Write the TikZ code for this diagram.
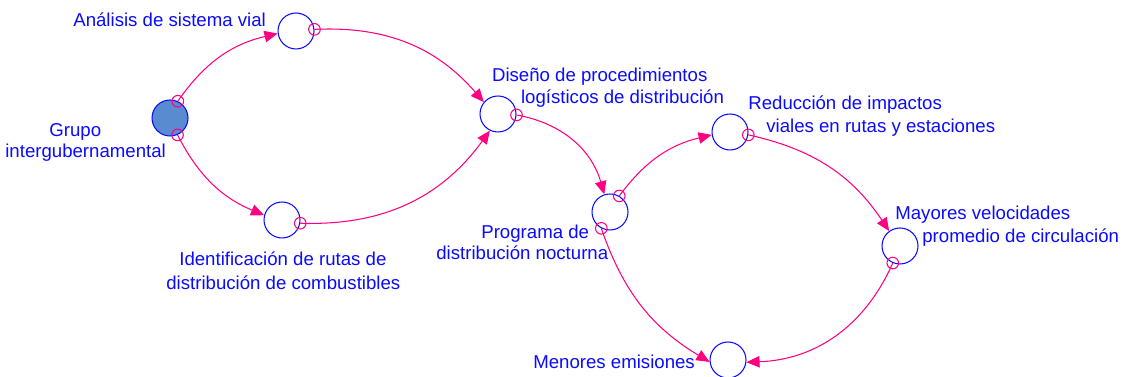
\documentclass[tikz,border=0pt]{standalone}
\usepackage{fontspec}
\setmainfont{Liberation Sans}
\usetikzlibrary{arrows.meta}
\definecolor{linkpink}{RGB}{255,0,128}
\definecolor{varblue}{RGB}{10,10,255}
\definecolor{srcfill}{RGB}{88,139,208}

\begin{document}
\begin{tikzpicture}[x=0.02cm, y=0.02cm, >={Triangle[length=7.5pt,width=6.5pt]},
		var/.style={circle, draw=varblue, line width=0.6pt, minimum size=0.72cm, inner sep=0pt},
		lbl/.style={anchor=base west, inner sep=0pt, text=varblue, font=\fontsize{10.6}{12.5}\selectfont},
		link/.style={->, draw=linkpink, fill=none, line width=0.6pt},
		tail/.style={draw=linkpink, line width=0.6pt}]
		
		\clip (0,0) rectangle (1124,377);
		
		% variables
		\node[var, fill=srcfill] (grupo) at (170,259) {};
		\node[var] (analisis) at (296,346) {};
		\node[var] (ident) at (282,157) {};
		\node[var] (diseno) at (498,263) {};
		\node[var] (programa) at (610,165) {};
		\node[var] (reduccion) at (730,245) {};
		\node[var] (mayores) at (900,131) {};
		\node[var] (menores) at (728,17) {};
		
		% labels
		\node[lbl] (analisisL) at (73,350.3) {Análisis de sistema vial};
		\node[lbl] (grupoL1) at (49,240.3) {Grupo};
		\node[lbl] (grupoL2) at (5,219) {intergubernamental};
		\node[lbl] (identL1) at (179,111) {Identificación de rutas de};
		\node[lbl] (identL2) at (166,87) {distribución de combustibles};
		\node[lbl] (disenoL1) at (491.7,295.3) {Diseño de procedimientos};
		\node[lbl] (disenoL2) at (520.7,273.7) {logísticos de distribución};
		\node[lbl] (programaL1) at (481,138) {Programa de};
		\node[lbl] (programaL2) at (436,117) {distribución nocturna};
		\node[lbl] (reduccionL1) at (748,267) {Reducción de impactos};
		\node[lbl] (reduccionL2) at (766,244) {viales en rutas y estaciones};
		\node[lbl] (mayoresL1) at (895,157) {Mayores velocidades};
		\node[lbl] (mayoresL2) at (922,134) {promedio de circulación};
		\node[lbl] (menoresL) at (533,8) {Menores emisiones};
		
		% causal links
		\draw[link] (grupo.65) to[bend left=21] (analisis.188);
		\draw[link] (grupo.294) to[bend right=20] (ident.165);
		\draw[link] (analisis.5) to[bend left=26] (diseno.140);
		\draw[link] (ident.350) to[bend right=28] (diseno.244);
		\draw[link] (diseno.357) to[bend left=32] (programa.108);
		\draw[link] (programa.60) to[bend left=20] (reduccion.189);
		\draw[link] (programa.242) to[bend right=20] (menores.186);
		\draw[link] (reduccion.351) to[bend left=22] (mayores.126);
		\draw[link] (mayores.247) to[bend left=32] (menores.353);
		
		% link tails
		\foreach \p in {grupo.65, grupo.294, analisis.5, ident.350, diseno.357,
			programa.60, programa.242, reduccion.351, mayores.247}
		\draw[tail] (\p) circle (3.3pt);
		
	\end{tikzpicture}
\end{document}
